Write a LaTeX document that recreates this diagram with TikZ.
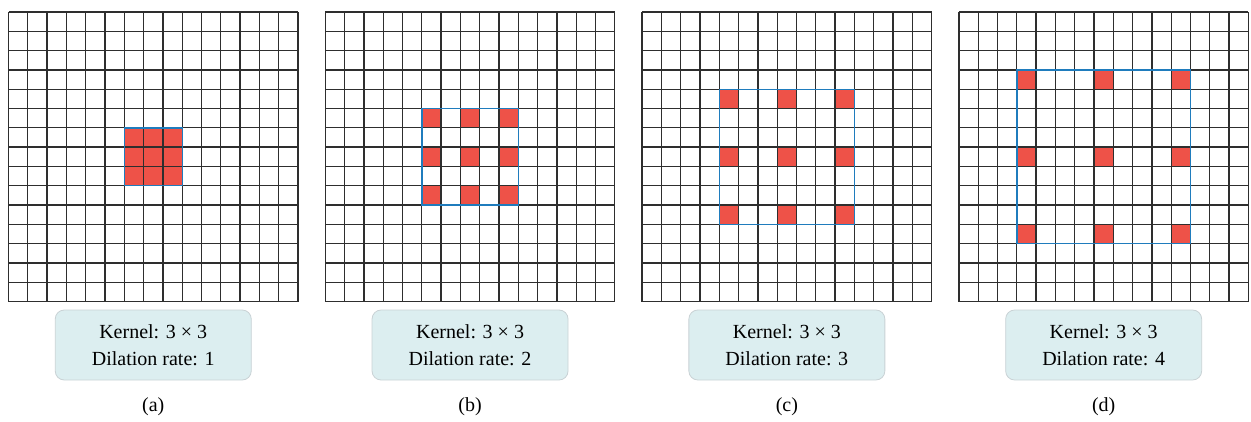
\documentclass[tikz,border=0pt]{standalone}
\usepackage{fontspec}
\setmainfont{Liberation Serif}
\definecolor{kred}{HTML}{EE5248}
\definecolor{kblue}{HTML}{1F7CBD}
\definecolor{gridc}{HTML}{2E2E2E}
\definecolor{boxfill}{HTML}{DCEEF0}
\definecolor{boxline}{HTML}{C9D2D5}
\tikzset{
  gridline/.style={draw=gridc, line width=1.3pt},
  redcell/.style={fill=kred},
  kernelbox/.style={draw=kblue, line width=1.4pt},
  labelbox/.style={draw=boxline, fill=boxfill, line width=0.8pt, rounded corners=9pt,
    minimum width=196pt, minimum height=70pt, align=center, font=\fontsize{20}{27}\selectfont, inner sep=0pt},
  captext/.style={font=\fontsize{20}{22}\selectfont, inner sep=0pt}
}
\begin{document}
\begin{tikzpicture}[x=1pt,y=-1pt]
\useasboundingbox (0,0) rectangle (1251,421);
\def\cs{19.3}
\foreach \g/\d/\t in {0/1/a,1/2/b,2/3/c,3/4/d}{
  \pgfmathsetmacro{\ox}{8.5+\g*316.8}
  \pgfmathsetmacro{\oy}{12}
  % red cells
  \foreach \i in {-1,0,1}{
    \foreach \j in {-1,0,1}{
      \pgfmathsetmacro{\cx}{\ox+(7+\i*\d)*\cs}
      \pgfmathsetmacro{\cy}{\oy+(7+\j*\d)*\cs}
      \fill[redcell] (\cx,\cy) rectangle ++(\cs,\cs);
    }
  }
  % grid
  \pgfmathsetmacro{\gx}{\ox+15*\cs}
  \pgfmathsetmacro{\gy}{\oy+15*\cs}
  \foreach \k in {0,...,15}{
    \pgfmathsetmacro{\px}{\ox+\k*\cs}
    \pgfmathsetmacro{\py}{\oy+\k*\cs}
    \draw[gridline] (\px,\oy) -- (\px,\gy);
    \draw[gridline] (\ox,\py) -- (\gx,\py);
  }
  % kernel outline
  \pgfmathsetmacro{\ax}{\ox+(7-\d)*\cs}
  \pgfmathsetmacro{\ay}{\oy+(7-\d)*\cs}
  \pgfmathsetmacro{\bx}{\ox+(8+\d)*\cs}
  \pgfmathsetmacro{\by}{\oy+(8+\d)*\cs}
  \draw[kernelbox] (\ax,\ay) rectangle (\bx,\by);
  % label box
  \pgfmathsetmacro{\mx}{\ox+7.5*\cs}
  \node[labelbox] (lab\t) at (\mx,345) {Kernel: 3 × 3\\Dilation rate: \d};
  \node[captext] (cap\t) at (\mx,407) {(\t)};
}
\end{tikzpicture}
\end{document}
